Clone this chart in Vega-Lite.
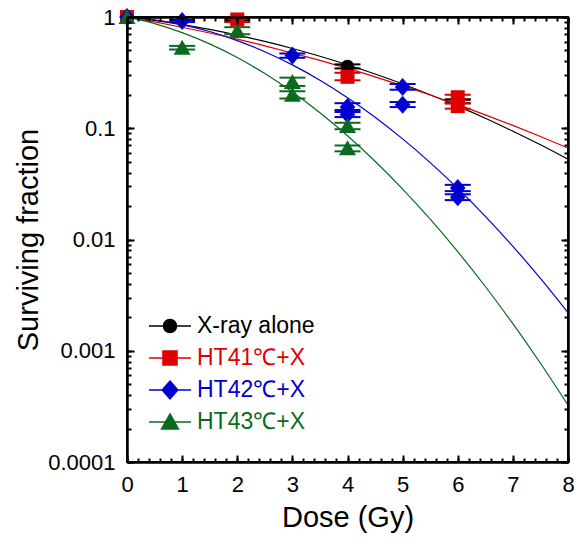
{
  "$schema": "https://vega.github.io/schema/vega-lite/v6.json",
  "width": 441,
  "height": 445,
  "autosize": "none",
  "padding": {"left": 127, "top": 17, "right": 16, "bottom": 82},
  "background": "white",
  "config": {
    "font": "Liberation Sans",
    "view": {"stroke": "black", "strokeWidth": 2},
    "axis": {"grid": false, "labelOverlap": false, "labelColor": "black", "titleColor": "black", "titleFontWeight": "normal", "domainColor": "black", "domainWidth": 2}
  },
  "datasets": {
    "fit": [
      {"group": "X-ray alone", "dose": 0, "sf": 1},
      {"group": "X-ray alone", "dose": 0.5, "sf": 0.932},
      {"group": "X-ray alone", "dose": 1, "sf": 0.855},
      {"group": "X-ray alone", "dose": 1.5, "sf": 0.773},
      {"group": "X-ray alone", "dose": 2, "sf": 0.688},
      {"group": "X-ray alone", "dose": 2.5, "sf": 0.603},
      {"group": "X-ray alone", "dose": 3, "sf": 0.521},
      {"group": "X-ray alone", "dose": 3.5, "sf": 0.444},
      {"group": "X-ray alone", "dose": 4, "sf": 0.372},
      {"group": "X-ray alone", "dose": 4.5, "sf": 0.307},
      {"group": "X-ray alone", "dose": 5, "sf": 0.25},
      {"group": "X-ray alone", "dose": 5.5, "sf": 0.2},
      {"group": "X-ray alone", "dose": 6, "sf": 0.158},
      {"group": "X-ray alone", "dose": 6.5, "sf": 0.123},
      {"group": "X-ray alone", "dose": 7, "sf": 0.094},
      {"group": "X-ray alone", "dose": 7.5, "sf": 0.071},
      {"group": "X-ray alone", "dose": 8, "sf": 0.0527},
      {"group": "HT41℃+X", "dose": 0, "sf": 1},
      {"group": "HT41℃+X", "dose": 0.5, "sf": 0.904},
      {"group": "HT41℃+X", "dose": 1, "sf": 0.809},
      {"group": "HT41℃+X", "dose": 1.5, "sf": 0.718},
      {"group": "HT41℃+X", "dose": 2, "sf": 0.632},
      {"group": "HT41℃+X", "dose": 2.5, "sf": 0.55},
      {"group": "HT41℃+X", "dose": 3, "sf": 0.475},
      {"group": "HT41℃+X", "dose": 3.5, "sf": 0.407},
      {"group": "HT41℃+X", "dose": 4, "sf": 0.345},
      {"group": "HT41℃+X", "dose": 4.5, "sf": 0.29},
      {"group": "HT41℃+X", "dose": 5, "sf": 0.241},
      {"group": "HT41℃+X", "dose": 5.5, "sf": 0.199},
      {"group": "HT41℃+X", "dose": 6, "sf": 0.163},
      {"group": "HT41℃+X", "dose": 6.5, "sf": 0.132},
      {"group": "HT41℃+X", "dose": 7, "sf": 0.106},
      {"group": "HT41℃+X", "dose": 7.5, "sf": 0.0842},
      {"group": "HT41℃+X", "dose": 8, "sf": 0.0664},
      {"group": "HT42℃+X", "dose": 0, "sf": 1},
      {"group": "HT42℃+X", "dose": 0.5, "sf": 0.945},
      {"group": "HT42℃+X", "dose": 1, "sf": 0.855},
      {"group": "HT42℃+X", "dose": 1.5, "sf": 0.74},
      {"group": "HT42℃+X", "dose": 2, "sf": 0.614},
      {"group": "HT42℃+X", "dose": 2.5, "sf": 0.487},
      {"group": "HT42℃+X", "dose": 3, "sf": 0.371},
      {"group": "HT42℃+X", "dose": 3.5, "sf": 0.27},
      {"group": "HT42℃+X", "dose": 4, "sf": 0.188},
      {"group": "HT42℃+X", "dose": 4.5, "sf": 0.1256},
      {"group": "HT42℃+X", "dose": 5, "sf": 0.0802},
      {"group": "HT42℃+X", "dose": 5.5, "sf": 0.0491},
      {"group": "HT42℃+X", "dose": 6, "sf": 0.0288},
      {"group": "HT42℃+X", "dose": 6.5, "sf": 0.01615},
      {"group": "HT42℃+X", "dose": 7, "sf": 0.00868},
      {"group": "HT42℃+X", "dose": 7.5, "sf": 0.00447},
      {"group": "HT42℃+X", "dose": 8, "sf": 0.0022},
      {"group": "HT43℃+X", "dose": 0, "sf": 1},
      {"group": "HT43℃+X", "dose": 0.5, "sf": 0.872},
      {"group": "HT43℃+X", "dose": 1, "sf": 0.724},
      {"group": "HT43℃+X", "dose": 1.5, "sf": 0.573},
      {"group": "HT43℃+X", "dose": 2, "sf": 0.432},
      {"group": "HT43℃+X", "dose": 2.5, "sf": 0.31},
      {"group": "HT43℃+X", "dose": 3, "sf": 0.212},
      {"group": "HT43℃+X", "dose": 3.5, "sf": 0.138},
      {"group": "HT43℃+X", "dose": 4, "sf": 0.0856},
      {"group": "HT43℃+X", "dose": 4.5, "sf": 0.0505},
      {"group": "HT43℃+X", "dose": 5, "sf": 0.0284},
      {"group": "HT43℃+X", "dose": 5.5, "sf": 0.01524},
      {"group": "HT43℃+X", "dose": 6, "sf": 0.00778},
      {"group": "HT43℃+X", "dose": 6.5, "sf": 0.00378},
      {"group": "HT43℃+X", "dose": 7, "sf": 0.00175},
      {"group": "HT43℃+X", "dose": 7.5, "sf": 0.000772},
      {"group": "HT43℃+X", "dose": 8, "sf": 0.000325}
    ],
    "obs": [
      {"group": "X-ray alone", "dose": 0, "sf": 1, "lo": 1, "hi": 1},
      {"group": "X-ray alone", "dose": 2, "sf": 0.95, "lo": 0.93, "hi": 0.97},
      {"group": "X-ray alone", "dose": 4, "sf": 0.36, "lo": 0.345, "hi": 0.375},
      {"group": "X-ray alone", "dose": 6, "sf": 0.175, "lo": 0.168, "hi": 0.182},
      {"group": "HT41℃+X", "dose": 0, "sf": 1, "lo": 1, "hi": 1},
      {"group": "HT41℃+X", "dose": 2, "sf": 0.95, "lo": 0.9, "hi": 1.0},
      {"group": "HT41℃+X", "dose": 4, "sf": 0.29, "lo": 0.27, "hi": 0.315},
      {"group": "HT41℃+X", "dose": 6, "sf": 0.19, "lo": 0.18, "hi": 0.2},
      {"group": "HT41℃+X", "dose": 6, "sf": 0.158, "lo": 0.15, "hi": 0.167},
      {"group": "HT42℃+X", "dose": 0, "sf": 1, "lo": 1, "hi": 1},
      {"group": "HT42℃+X", "dose": 1, "sf": 0.92, "lo": 0.9, "hi": 0.94},
      {"group": "HT42℃+X", "dose": 3, "sf": 0.45, "lo": 0.43, "hi": 0.47},
      {"group": "HT42℃+X", "dose": 4, "sf": 0.155, "lo": 0.146, "hi": 0.168},
      {"group": "HT42℃+X", "dose": 4, "sf": 0.133, "lo": 0.126, "hi": 0.14},
      {"group": "HT42℃+X", "dose": 5, "sf": 0.235, "lo": 0.222, "hi": 0.25},
      {"group": "HT42℃+X", "dose": 5, "sf": 0.163, "lo": 0.155, "hi": 0.172},
      {"group": "HT42℃+X", "dose": 6, "sf": 0.029, "lo": 0.0272, "hi": 0.031},
      {"group": "HT42℃+X", "dose": 6, "sf": 0.024, "lo": 0.0226, "hi": 0.0255},
      {"group": "HT43℃+X", "dose": 0, "sf": 1, "lo": 1, "hi": 1},
      {"group": "HT43℃+X", "dose": 1, "sf": 0.53, "lo": 0.51, "hi": 0.55},
      {"group": "HT43℃+X", "dose": 2, "sf": 0.75, "lo": 0.7, "hi": 0.81},
      {"group": "HT43℃+X", "dose": 3, "sf": 0.26, "lo": 0.24, "hi": 0.285},
      {"group": "HT43℃+X", "dose": 3, "sf": 0.2, "lo": 0.185, "hi": 0.215},
      {"group": "HT43℃+X", "dose": 4, "sf": 0.105, "lo": 0.098, "hi": 0.112},
      {"group": "HT43℃+X", "dose": 4, "sf": 0.066, "lo": 0.062, "hi": 0.07}
    ]
  },
  "layer": [
    {
      "data": {"name": "fit"},
      "mark": {"type": "line", "strokeWidth": 1.2, "interpolate": "monotone", "clip": true},
      "encoding": {
        "x": {"field": "dose", "type": "quantitative", "scale": {"domain": [0, 8], "nice": false}, "axis": null},
        "y": {"field": "sf", "type": "quantitative", "scale": {"type": "log", "domain": [0.0001, 1], "nice": false}, "axis": null},
        "color": {"field": "group", "type": "nominal", "legend": null,
          "scale": {"domain": ["X-ray alone", "HT41℃+X", "HT42℃+X", "HT43℃+X"], "range": ["#000000", "#e00000", "#0000d0", "#0a6b20"]}}
      }
    },
    {
      "data": {"name": "obs"},
      "transform": [{"filter": "datum.dose > 0"}],
      "mark": {"type": "rule", "strokeWidth": 2, "opacity": 1},
      "encoding": {
        "x": {"field": "dose", "type": "quantitative", "axis": null},
        "y": {"field": "lo", "type": "quantitative", "axis": null},
        "y2": {"field": "hi"},
        "color": {"field": "group", "type": "nominal", "legend": null,
          "scale": {"domain": ["X-ray alone", "HT41℃+X", "HT42℃+X", "HT43℃+X"], "range": ["#000000", "#e00000", "#0000d0", "#0a6b20"]}}
      }
    },
    {
      "data": {"name": "obs"},
      "transform": [{"filter": "datum.dose > 0"}],
      "mark": {"type": "tick", "orient": "horizontal", "size": 26, "thickness": 2, "opacity": 1},
      "encoding": {
        "x": {"field": "dose", "type": "quantitative", "axis": null},
        "y": {"field": "lo", "type": "quantitative", "axis": null},
        "color": {"field": "group", "type": "nominal", "legend": null,
          "scale": {"domain": ["X-ray alone", "HT41℃+X", "HT42℃+X", "HT43℃+X"], "range": ["#000000", "#e00000", "#0000d0", "#0a6b20"]}}
      }
    },
    {
      "data": {"name": "obs"},
      "transform": [{"filter": "datum.dose > 0"}],
      "mark": {"type": "tick", "orient": "horizontal", "size": 26, "thickness": 2, "opacity": 1},
      "encoding": {
        "x": {"field": "dose", "type": "quantitative", "axis": null},
        "y": {"field": "hi", "type": "quantitative", "axis": null},
        "color": {"field": "group", "type": "nominal", "legend": null,
          "scale": {"domain": ["X-ray alone", "HT41℃+X", "HT42℃+X", "HT43℃+X"], "range": ["#000000", "#e00000", "#0000d0", "#0a6b20"]}}
      }
    },
    {
      "data": {"name": "obs"},
      "mark": {"type": "point", "filled": true, "size": 400, "opacity": 1},
      "encoding": {
        "x": {"field": "dose", "type": "quantitative",
          "axis": {"orient": "bottom", "title": "Dose (Gy)", "titleFontSize": 29, "titlePadding": 8, "labelFontSize": 22, "labelPadding": 19, "labelFlush": false,
            "tickCount": 8, "format": "d", "tickSize": -7, "tickColor": "black", "tickWidth": 2, "zindex": 1}},
        "y": {"field": "sf", "type": "quantitative",
          "axis": {"orient": "left", "title": "Surviving fraction", "titleFontSize": 29, "titlePadding": 4, "labelFontSize": 22, "labelPadding": 19, "labelFlush": false,
            "tickCount": 4, "format": "~g", "tickSize": -7, "tickColor": "black", "tickWidth": 2, "zindex": 1}},
        "color": {"field": "group", "type": "nominal", "legend": null,
          "scale": {"domain": ["X-ray alone", "HT41℃+X", "HT42℃+X", "HT43℃+X"], "range": ["#000000", "#e00000", "#0000d0", "#0a6b20"]}},
        "shape": {"field": "group", "type": "nominal", "legend": null,
          "scale": {"domain": ["X-ray alone", "HT41℃+X", "HT42℃+X", "HT43℃+X"],
            "range": ["M-0.65,0A0.65,0.65,0,1,0,0.65,0A0.65,0.65,0,1,0,-0.65,0Z", "M-0.7,-0.7H0.7V0.7H-0.7Z", "M0,-0.9L0.78,0L0,0.9L-0.78,0Z", "M0,-0.8L0.85,0.7L-0.85,0.7Z"]}}
      }
    },
    {
      "data": {"name": "obs"},
      "mark": {"type": "point", "filled": true, "size": 676, "opacity": 0},
      "encoding": {
        "x": {"field": "dose", "type": "quantitative",
          "axis": {"orient": "top", "title": null, "labels": false, "tickCount": 8, "tickSize": -7, "tickColor": "black", "tickWidth": 2, "zindex": 1}},
        "y": {"field": "sf", "type": "quantitative",
          "axis": {"orient": "right", "title": null, "labels": false, "tickCount": 4, "tickSize": -7, "tickColor": "black", "tickWidth": 2, "zindex": 1}},
        "color": {"field": "group", "type": "nominal",
          "scale": {"domain": ["X-ray alone", "HT41℃+X", "HT42℃+X", "HT43℃+X"], "range": ["#000000", "#e00000", "#0000d0", "#0a6b20"]},
          "legend": {"title": null, "orient": "none", "legendX": 29, "legendY": 295, "padding": 0,
            "labelFontSize": 23, "labelFont": "Liberation Sans", "labelLimit": 300, "labelOffset": 13,
            "symbolSize": 676, "rowPadding": 6, "symbolStrokeWidth": 1.5, "symbolOpacity": 1,
            "encoding": {
              "symbols": {
                "stroke": {"condition": [
                  {"test": "datum.value === 'X-ray alone'", "value": "#000000"},
                  {"test": "datum.value === 'HT41℃+X'", "value": "#e00000"},
                  {"test": "datum.value === 'HT42℃+X'", "value": "#0000d0"}],
                  "value": "#0a6b20"},
                "strokeWidth": {"value": 1.5},
                "opacity": {"value": 1}
              },
              "labels": {
                "fill": {"condition": [
                  {"test": "datum.value === 'X-ray alone'", "value": "#000000"},
                  {"test": "datum.value === 'HT41℃+X'", "value": "#e00000"},
                  {"test": "datum.value === 'HT42℃+X'", "value": "#0000d0"}],
                  "value": "#0a6b20"}
              }
            }}},
        "shape": {"field": "group", "type": "nominal",
          "scale": {"domain": ["X-ray alone", "HT41℃+X", "HT42℃+X", "HT43℃+X"],
            "range": ["M-1.62,0H1.62M-0.5,0A0.5,0.5,0,1,0,0.5,0A0.5,0.5,0,1,0,-0.5,0Z", "M-1.62,0H1.62M-0.54,-0.54H0.54V0.54H-0.54Z", "M-1.62,0H1.62M0,-0.69L0.6,0L0,0.69L-0.6,0Z", "M-1.62,0H1.62M0,-0.62L0.65,0.54L-0.65,0.54Z"]},
          "legend": {"title": null, "orient": "none", "legendX": 29, "legendY": 295, "padding": 0,
            "labelFontSize": 23, "labelFont": "Liberation Sans", "labelLimit": 300, "labelOffset": 13,
            "symbolSize": 676, "rowPadding": 6, "symbolStrokeWidth": 1.5, "symbolOpacity": 1}}
      }
    },
    {
      "data": {"name": "obs"},
      "mark": {"type": "point", "opacity": 0},
      "encoding": {
        "x": {"field": "dose", "type": "quantitative",
          "axis": {"orient": "bottom", "title": null, "labels": false, "tickCount": 40, "tickSize": -4, "tickColor": "black", "tickWidth": 2, "zindex": 1}},
        "y": {"field": "sf", "type": "quantitative",
          "axis": {"orient": "left", "title": null, "labels": false, "tickCount": 10, "tickSize": -4, "tickColor": "black", "tickWidth": 2, "zindex": 1}}
      }
    },
    {
      "data": {"name": "obs"},
      "mark": {"type": "point", "opacity": 0},
      "encoding": {
        "x": {"field": "dose", "type": "quantitative",
          "axis": {"orient": "top", "title": null, "labels": false, "tickCount": 40, "tickSize": -4, "tickColor": "black", "tickWidth": 2, "zindex": 1}},
        "y": {"field": "sf", "type": "quantitative",
          "axis": {"orient": "right", "title": null, "labels": false, "tickCount": 10, "tickSize": -4, "tickColor": "black", "tickWidth": 2, "zindex": 1}}
      }
    }
  ],
  "resolve": {"scale": {"color": "independent", "shape": "independent"}, "axis": {"x": "independent", "y": "independent"}}
}
